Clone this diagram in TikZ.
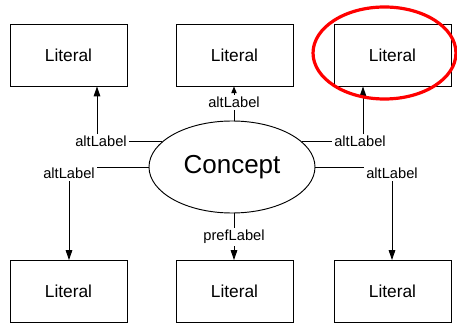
\documentclass[tikz,border=0pt]{standalone}
\usepackage{fontspec}
\setmainfont{Liberation Sans}
\usetikzlibrary{shapes.geometric,arrows.meta}

\begin{document}
\begin{tikzpicture}[
    x=0.75pt, y=-0.75pt,
    >={Triangle[width=5pt,length=7.5pt]},
    literal/.style={rectangle, draw, line width=0.7pt, minimum width=87.75pt, minimum height=46.5pt, font=\fontsize{13}{15}\selectfont},
    concept/.style={ellipse, draw, line width=0.7pt, inner sep=0pt, minimum width=124.5pt, minimum height=69pt, font=\fontsize{19.5}{22}\selectfont},
    prop/.style={anchor=base, inner sep=1.5pt, font=\fontsize{11}{13}\selectfont},
    link/.style={line width=0.7pt}
]
\useasboundingbox (0,0) rectangle (457,324);

% Concept
\node[concept] (concept) at (232,167) {Concept};

% Literals
\node[literal] (lit1) at (68.5,55) {Literal};
\node[literal] (lit2) at (234.5,55) {Literal};
\node[literal] (lit3) at (392.5,55) {Literal};
\node[literal] (lit4) at (68.5,291.5) {Literal};
\node[literal] (lit5) at (234.5,291.5) {Literal};
\node[literal] (lit6) at (392.5,291.5) {Literal};

% Property labels
\node[prop] (alt1) at (101,147) {altLabel};
\node[prop] (alt2) at (234,107.7) {altLabel};
\node[prop] (alt3) at (360,147) {altLabel};
\node[prop] (alt4) at (69,178.7) {altLabel};
\node[prop] (alt5) at (392,178.7) {altLabel};
\node[prop] (pref) at (234,240.7) {prefLabel};

% Connectors
\draw[link] (concept.160) -- (concept.160 -| alt1.east);
\draw[link, ->] (alt1.north -| 97,0) -- (lit1.south -| 97,0);
\draw[link] (concept.north -| alt2.south) -- (alt2.south);
\draw[link, -{Triangle[width=4pt,length=5pt]}] (alt2.north) -- (lit2.south -| alt2.north);
\draw[link] (concept.20) -- (concept.20 -| alt3.west);
\draw[link, ->] (alt3.north -| 363,0) -- (lit3.south -| 363,0);
\draw[link] (concept.west) -- (concept.west -| alt4.east);
\draw[link, ->] (alt4.south) -- (lit4.north -| alt4.south);
\draw[link] (concept.east) -- (concept.east -| alt5.west);
\draw[link, ->] (alt5.south) -- (lit6.north -| alt5.south);
\draw[link] (concept.south -| pref.north) -- (pref.north);
\draw[link, ->] (pref.south) -- (lit5.north -| pref.south);

% Highlight
\draw[red, line width=2.4pt] (384.5,53) ellipse [x radius=53.6pt, y radius=34.5pt];

\end{tikzpicture}
\end{document}
